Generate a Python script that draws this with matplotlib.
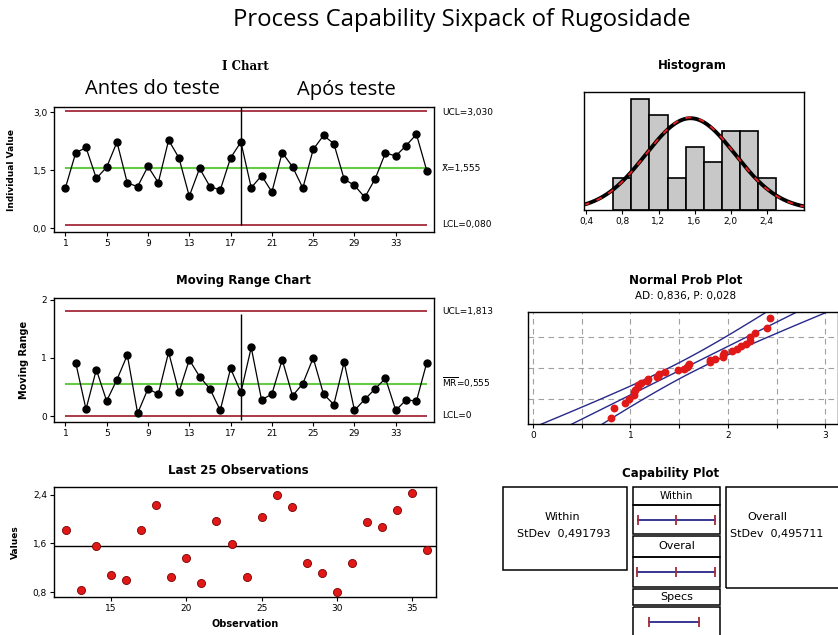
import matplotlib
matplotlib.use("Agg")
import matplotlib.pyplot as plt
import numpy as np
from statistics import NormalDist
from matplotlib.patches import Rectangle
import matplotlib.transforms as mtrans

W, H = 838, 635

#------------------------------------------------------------------------------
# Data read off the sixpack
#------------------------------------------------------------------------------
ivals = [1.04, 1.95, 2.09, 1.29, 1.58, 2.23, 1.17, 1.08, 1.60, 1.18, 2.28, 1.82,
         0.83, 1.55, 1.08, 0.99, 1.82, 2.23, 1.05, 1.36, 0.94, 1.96, 1.59, 1.04,
         2.04, 2.40, 2.19, 1.27, 1.11, 0.80, 1.28, 1.95, 1.87, 2.14, 2.43, 1.49]
mr_vals = [0.92, 0.12, 0.80, 0.26, 0.63, 1.05, 0.05, 0.47, 0.38, 1.10, 0.41, 0.97,
           0.68, 0.47, 0.10, 0.82, 0.41, 1.18, 0.28, 0.38, 0.97, 0.35, 0.56, 1.00,
           0.38, 0.20, 0.93, 0.10, 0.29, 0.47, 0.65, 0.10, 0.28, 0.26, 0.92]
xbar, ucl_i, lcl_i = 1.555, 3.030, 0.080
mrbar, ucl_mr, lcl_mr = 0.555, 1.813, 0.0
sd_within, sd_overall = 0.491793, 0.495711
lsl, usl = 0.5, 2.4
split_obs = 18
ad_text = "AD: 0,836, P: 0,028"

obs_ticks = [1, 5, 9, 13, 17, 21, 25, 29, 33]
i_yticks = [0.0, 1.5, 3.0]
i_ylabels = ["0,0", "1,5", "3,0"]
mr_yticks = [0, 1, 2]
last_xticks = [15, 20, 25, 30, 35]
last_yticks = [0.8, 1.6, 2.4]
last_ylabels = ["0,8", "1,6", "2,4"]
hist_edges = [0.7, 0.9, 1.1, 1.3, 1.5, 1.7, 1.9, 2.1, 2.3, 2.5]
hist_ticks = [0.4, 0.8, 1.2, 1.6, 2.0, 2.4]
hist_labels = ["0,4", "0,8", "1,2", "1,6", "2,0", "2,4"]
prob_grid_x = [0, 0.5, 1, 1.5, 2, 2.5, 3]
prob_labels = ["0", "", "1", "", "2", "", "3"]
prob_grid_p = [0.10, 0.50, 0.90]

red = "#a52a3a"
green = "#66cc44"
blue = "#28288a"
dot = "#e01818"

def fmt(v):
  return ("%.3f" % v).replace(".", ",")

fig = plt.figure(figsize=(W/100, H/100), dpi=100)

def box(l, t, r, b):
  return [l/W, 1-b/H, (r-l)/W, (b-t)/H]

def ftext(x, y, s, **kw):
  fig.text(x/W, 1-y/H, s, **kw)

def style(ax):
  for sp in ax.spines.values():
    sp.set_linewidth(1.0)
  ax.tick_params(direction="out", length=3, width=0.8, labelsize=6.5, pad=2)

tfont = dict(family="DejaVu Sans", weight="bold", fontsize=8.5)

ftext(462, 20, "Process Capability Sixpack of Rugosidade", ha="center", va="center",
      fontsize=17.2, family="Open Sans")

#------------------------------------------------------------------------------
# I chart
#------------------------------------------------------------------------------
ax1 = fig.add_axes(box(54, 107, 434, 232))
style(ax1)
x = np.arange(1, len(ivals)+1)
ax1.hlines([ucl_i, lcl_i], 1, len(ivals), color=red, lw=1.3)
ax1.hlines(xbar, 1, len(ivals), color=green, lw=1.5)
ax1.vlines(split_obs, lcl_i, 3.2, color="black", lw=1)
ax1.plot(x, ivals, color="black", lw=0.9, marker="o", ms=5, zorder=3)
ax1.set_xlim(-0.1, 36.7)
ax1.set_ylim(-0.096, 3.137)
ax1.set_xticks(obs_ticks)
ax1.set_yticks(i_yticks)
ax1.set_yticklabels(i_ylabels)
ftext(245, 67, "I Chart", ha="center", va="center", family="DejaVu Serif",
      weight="bold", fontsize=8.5)
ftext(152, 89, "Antes do teste", ha="center", va="center", family="Open Sans", fontsize=14.5)
ftext(346, 90, "Após teste", ha="center", va="center", family="Open Sans", fontsize=14.5)
ftext(12, 170, "Individual Value", ha="center", va="center", rotation=90,
      weight="bold", fontsize=6.5)
ftext(442, 112, "UCL=" + fmt(ucl_i), va="center", fontsize=6.5)
ftext(442, 168, "X\u0304=" + fmt(xbar), va="center", fontsize=6.5)
ftext(442, 224, "LCL=" + fmt(lcl_i), va="center", fontsize=6.5)

#------------------------------------------------------------------------------
# Moving range chart
#------------------------------------------------------------------------------
ax2 = fig.add_axes(box(54, 298, 434, 422))
style(ax2)
xm = np.arange(2, len(mr_vals)+2)
ax2.hlines([ucl_mr, lcl_mr], 1, len(ivals), color=red, lw=1.3)
ax2.hlines(mrbar, 1, len(ivals), color=green, lw=1.5)
ax2.vlines(split_obs, -0.07, 1.76, color="black", lw=1)
ax2.plot(xm, mr_vals, color="black", lw=0.9, marker="o", ms=5, zorder=3)
ax2.set_xlim(-0.1, 36.7)
ax2.set_ylim(-0.1, 2.03)
ax2.set_xticks(obs_ticks)
ax2.set_yticks(mr_yticks)
ftext(243, 281, "Moving Range Chart", ha="center", va="center", **tfont)
ftext(24, 360, "Moving Range", ha="center", va="center", rotation=90,
      weight="bold", fontsize=7)
ftext(442, 311, "UCL=" + fmt(ucl_mr), va="center", fontsize=6.5)
ftext(442, 383, r"$\overline{\mathrm{MR}}$=" + fmt(mrbar), va="center", fontsize=6.5)
ftext(442, 416, "LCL=0", va="center", fontsize=6.5)

#------------------------------------------------------------------------------
# Last 25 observations
#------------------------------------------------------------------------------
ax3 = fig.add_axes(box(54, 487, 436, 597))
style(ax3)
last = ivals[-25:]
xl = x[-25:]
ax3.axhline(xbar, color="black", lw=1)
ax3.scatter(xl, last, s=34, color=dot, edgecolor="#7a0000", lw=0.6, zorder=3)
ax3.set_xlim(11.22, 36.57)
ax3.set_ylim(0.718, 2.525)
ax3.set_xticks(last_xticks)
ax3.set_yticks(last_yticks)
ax3.set_yticklabels(last_ylabels)
ftext(238, 470, "Last 25 Observations", ha="center", va="center", **tfont)
ftext(15, 542, "Values", ha="center", va="center", rotation=90, weight="bold", fontsize=6.5)
ftext(245, 624, "Observation", ha="center", va="center", weight="bold", fontsize=7)

#------------------------------------------------------------------------------
# Histogram
#------------------------------------------------------------------------------
ax4 = fig.add_axes(box(584, 92, 804, 210))
style(ax4)
ax4.hist(ivals, bins=hist_edges, color="#c8c8c8", edgecolor="black", lw=1.2)
xc = np.linspace(0.37, 2.82, 300)
bw = hist_edges[1] - hist_edges[0]
n = len(ivals)
ov = NormalDist(xbar, sd_overall)
wi = NormalDist(xbar, sd_within)
ax4.plot(xc, [n*bw*ov.pdf(v) for v in xc], color="black", lw=2.8)
ax4.plot(xc, [n*bw*wi.pdf(v) for v in xc], color="#e02020", lw=1.4, ls=(0, (3, 4)))
ax4.set_xlim(0.373, 2.815)
ax4.set_ylim(0, 7.45)
ax4.set_yticks([])
ax4.set_xticks(hist_ticks)
ax4.set_xticklabels(hist_labels)
ftext(692, 65, "Histogram", ha="center", va="center", **tfont)

#------------------------------------------------------------------------------
# Normal probability plot
#------------------------------------------------------------------------------
ax5 = fig.add_axes(box(528, 312, 838, 424))
style(ax5)
srt = np.sort(ivals)
nd = NormalDist()
zs = [nd.inv_cdf((i+1-0.3)/(n+0.4)) for i in range(n)]
zl = np.linspace(-2.4, 2.4, 100)
fit = xbar + sd_overall*zl
half = 1.96*sd_overall/np.sqrt(n)*np.sqrt(1+zl**2/2)
for curve in (fit, fit-half, fit+half):
  ax5.plot(curve, zl, color=blue, lw=1)
ax5.scatter(srt, zs, s=32, color=dot, zorder=3, lw=0)
ax5.set_xlim(-0.05, 3.13)
ax5.set_ylim(nd.inv_cdf(0.01), nd.inv_cdf(0.99))
ax5.set_xticks(prob_grid_x)
ax5.set_xticklabels(prob_labels)
ax5.set_yticks([nd.inv_cdf(p) for p in prob_grid_p])
ax5.tick_params(axis="y", left=False, labelleft=False)
ax5.grid(True, ls=(0, (5, 4)), color="#a0a0a0", lw=0.8)
ftext(686, 281, "Normal Prob Plot", ha="center", va="center", **tfont)
ftext(686, 296, ad_text, ha="center", va="center", fontsize=7.5)

#------------------------------------------------------------------------------
# Capability plot
#------------------------------------------------------------------------------
ftext(671, 473, "Capability Plot", ha="center", va="center", **tfont)

def fbox(l, t, r, b):
  fig.patches.append(Rectangle((l/W, 1-b/H), (r-l)/W, (b-t)/H, transform=fig.transFigure,
                               fill=False, ec="black", lw=1.1))

fbox(503, 487, 627, 570)
fbox(726, 487, 842, 588)
ftext(562, 517, "Within", ha="center", va="center", fontsize=8)
ftext(564, 534, "StDev  " + ("%.6f" % sd_within).replace(".", ","), ha="center",
      va="center", fontsize=8)
ftext(767, 517, "Overall", ha="center", va="center", fontsize=8)
ftext(730, 534, "StDev  " + ("%.6f" % sd_overall).replace(".", ","), ha="left",
      va="center", fontsize=8)

axc = fig.add_axes(box(633, 487, 720, 635))
axc.axis("off")
axc.set_xlim(-0.10, 3.22)
axc.set_ylim(635, 487)
blend = mtrans.blended_transform_factory(axc.transAxes, axc.transData)
rows = [(487, 505), (505, 534), (535.5, 556.5), (556.5, 587), (588.5, 605), (606.5, 640)]
for top, bot in rows:
  axc.add_patch(Rectangle((0, top), 1, bot-top, transform=blend, fill=False,
                          ec="black", lw=1.1, clip_on=False))
axc.text(0.5, 496, "Within", transform=blend, ha="center", va="center", fontsize=7.5)
axc.text(0.5, 546, "Overal", transform=blend, ha="center", va="center", fontsize=8)
axc.text(0.5, 597, "Specs", transform=blend, ha="center", va="center", fontsize=8)
intervals = [(xbar-3*sd_within, xbar, xbar+3*sd_within, 520),
             (xbar-3*sd_overall, xbar, xbar+3*sd_overall, 572)]
for lo, mid, hi, yy in intervals:
  axc.plot([lo, hi], [yy, yy], color=blue, lw=1.3)
  axc.plot([lo, mid, hi], [yy]*3, ls="none", marker="|", ms=7, mew=1.3, color=red)
axc.plot([lsl, usl], [622, 622], color=blue, lw=1.3)
axc.plot([lsl, usl], [622, 622], ls="none", marker="|", ms=7, mew=1.3, color=red)

fig.savefig("out.png", dpi=100)
